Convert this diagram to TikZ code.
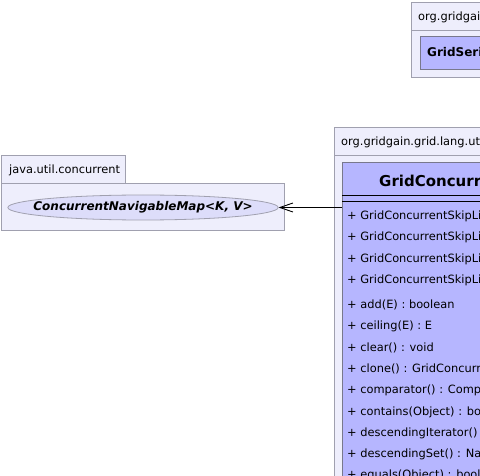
\documentclass[tikz,border=0pt]{standalone}
\usepackage{fontspec}
\setmainfont{DejaVu Sans}
\usepackage{xcolor}
\usepackage{tikz}
\usetikzlibrary{arrows.meta,shapes.geometric}
\definecolor{pkgfill}{RGB}{238,238,252}
\definecolor{pkgline}{RGB}{160,160,175}
\definecolor{clsfill}{RGB}{182,182,255}
\definecolor{clsline}{RGB}{120,120,140}
\definecolor{ifcfill}{RGB}{221,221,250}

\begin{document}
\begin{tikzpicture}[x=1pt,y=-1pt,
    pkg/.style={draw=pkgline,fill=pkgfill,line width=0.8pt},
    pkglabel/.style={anchor=base west,inner sep=0pt,font=\fontsize{11.4}{13}\selectfont},
    member/.style={anchor=base west,inner sep=0pt,font=\fontsize{11.4}{13}\selectfont},
    clsbox/.style={draw=clsline,fill=clsfill,line width=0.8pt,anchor=north west,
      inner sep=0pt,minimum width=300pt,minimum height=400pt},
    ifc/.style={ellipse,draw=pkgline,fill=ifcfill,line width=0.8pt,
      inner xsep=-14pt,inner ysep=0pt,minimum width=268pt,minimum height=25pt,
      font=\fontsize{12}{14}\selectfont\bfseries\itshape},
    dep/.style={-{Straight Barb[length=13pt,width=9pt]},line width=0.9pt}]
  \useasboundingbox (0,0) rectangle (480,476);
  \clip (0,0) rectangle (480,476);
  % Package at the top right
  \draw[pkg] (411,2) rectangle (520,30);
  \draw[pkg] (411,30) rectangle (560,77);
  \node[pkglabel] (toppkg) at (418,20.5) {org.gridgain.grid.typedef};
  \node[clsbox,minimum height=33pt] (serial) at (420,36) {};
  \node[pkglabel,font=\fontsize{12}{14}\selectfont\bfseries] (serialname) at (427,56.5)
    {GridSerializableSet<E>};
  % Package java.util.concurrent
  \draw[pkg] (1,155) rectangle (125,183);
  \draw[pkg] (1,183) rectangle (284,230);
  \node[pkglabel] (javapkg) at (9,173.5) {java.util.concurrent};
  \node[ifc] (navmap) at (143,207.5) {ConcurrentNavigableMap<K, V>};
  % Package of the skip list set
  \draw[pkg] (334,127) rectangle (560,155);
  \draw[pkg] (334,155) rectangle (600,600);
  \node[pkglabel] (langpkg) at (341,145.5) {org.gridgain.grid.lang.utils};
  \node[clsbox] (skipset) at (342,162) {};
  \node[pkglabel,font=\fontsize{15}{17}\selectfont\bfseries] (setname) at (379,187)
    {GridConcurrentSkipListSet<E>};
  \draw[line width=0.9pt] (342,195) -- (560,195);
  \draw[line width=0.9pt] (342,201) -- (560,201);
  % Constructors
  \foreach \txt [count=\i] in {{GridConcurrentSkipListSet()},
      {GridConcurrentSkipListSet(Comparator<? super E>)},
      {GridConcurrentSkipListSet(Collection<? extends E>)},
      {GridConcurrentSkipListSet(SortedSet<E>)}}
    \node[member] (ctor\i) at (347,{219.5+21.3*(\i-1)}) {+ \txt};
  % Methods
  \foreach \txt [count=\i] in {{add(E) : boolean},{ceiling(E) : E},{clear() : void},
      {clone() : GridConcurrentSkipListSet<E>},{comparator() : Comparator<? super E>},
      {contains(Object) : boolean},{descendingIterator() : Iterator<E>},
      {descendingSet() : NavigableSet<E>},{equals(Object) : boolean}}
    \node[member] (meth\i) at (347,{308.5+21.3*(\i-1)}) {+ \txt};
  % Dependency
  \draw[dep] (navmap.east -| skipset.west) -- (navmap.east);
\end{tikzpicture}
\end{document}
